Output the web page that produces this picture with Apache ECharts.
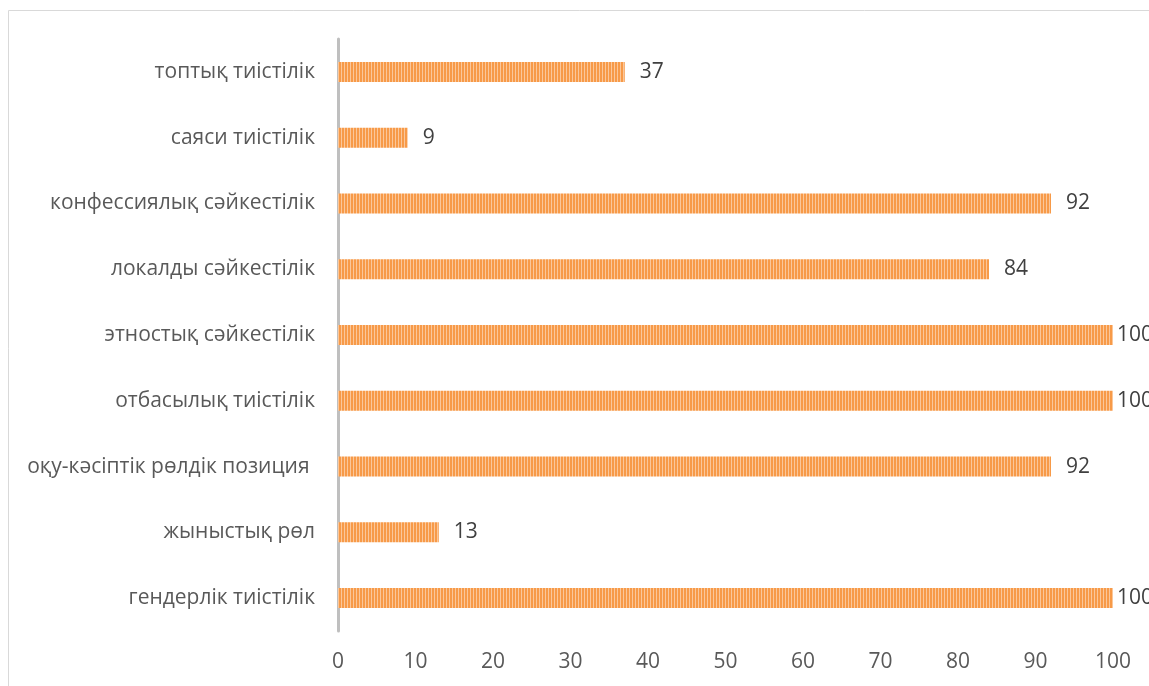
<!DOCTYPE html>
<html><head><meta charset="utf-8">
<script src="https://cdn.jsdelivr.net/npm/echarts@6/dist/echarts.min.js"></script>
<style>html,body{margin:0;padding:0;background:#fff}#c{width:1149px;height:686px}</style>
</head><body><div id="c"></div>
<script>
const categories = ['гендерлік тиістілік','жыныстық рөл','оқу-кәсіптік рөлдік позиция ','отбасылық тиістілік','этностық сәйкестілік','локалды сәйкестілік','конфессиялық сәйкестілік','саяси тиістілік','топтық тиістілік'];
const values = [100,13,92,100,100,84,92,9,37];
const xTicks = [0,10,20,30,40,50,60,70,80,90,100];

const cv = document.createElement('canvas');
cv.width = 3; cv.height = 20;
const ctx = cv.getContext('2d');
ctx.fillStyle = '#F79A48'; ctx.fillRect(0,0,3,20);
ctx.fillStyle = '#FBC79A'; ctx.fillRect(2,0,1,20);

const seriesData = values.map(v => v >= 100 ? {value: v, label: {distance: 4}} : v);

const chart = echarts.init(document.getElementById('c'));
chart.setOption({
  animation:false,
  graphic:[{type:'rect',shape:{x:8.5,y:10.5,width:1300,height:900},style:{fill:'none',stroke:'#d9d9d9',lineWidth:1},silent:true}],
  grid:{left:338,right:36,top:39,bottom:55,containLabel:false},
  xAxis:{type:'value',min:0,max:100,interval:10,
    axisLine:{show:false},axisTick:{show:false},splitLine:{show:false},
    axisLabel:{color:'#595959',fontSize:21,fontFamily:'Open Sans',margin:21,
      formatter:v=>xTicks.includes(v)?String(v):''}},
  yAxis:{type:'category',data:categories,
    axisLine:{show:true,lineStyle:{color:'#bfbfbf',width:3}},axisTick:{show:false},
    axisLabel:{color:'#595959',fontSize:21,fontFamily:'Open Sans',margin:23}},
  series:[{type:'bar',data:seriesData,barWidth:20,
    itemStyle:{color:{image:cv,repeat:'repeat'}},
    label:{show:true,position:'right',distance:15,color:'#404040',fontSize:21,fontFamily:'Open Sans'}}]
});
</script></body></html>
